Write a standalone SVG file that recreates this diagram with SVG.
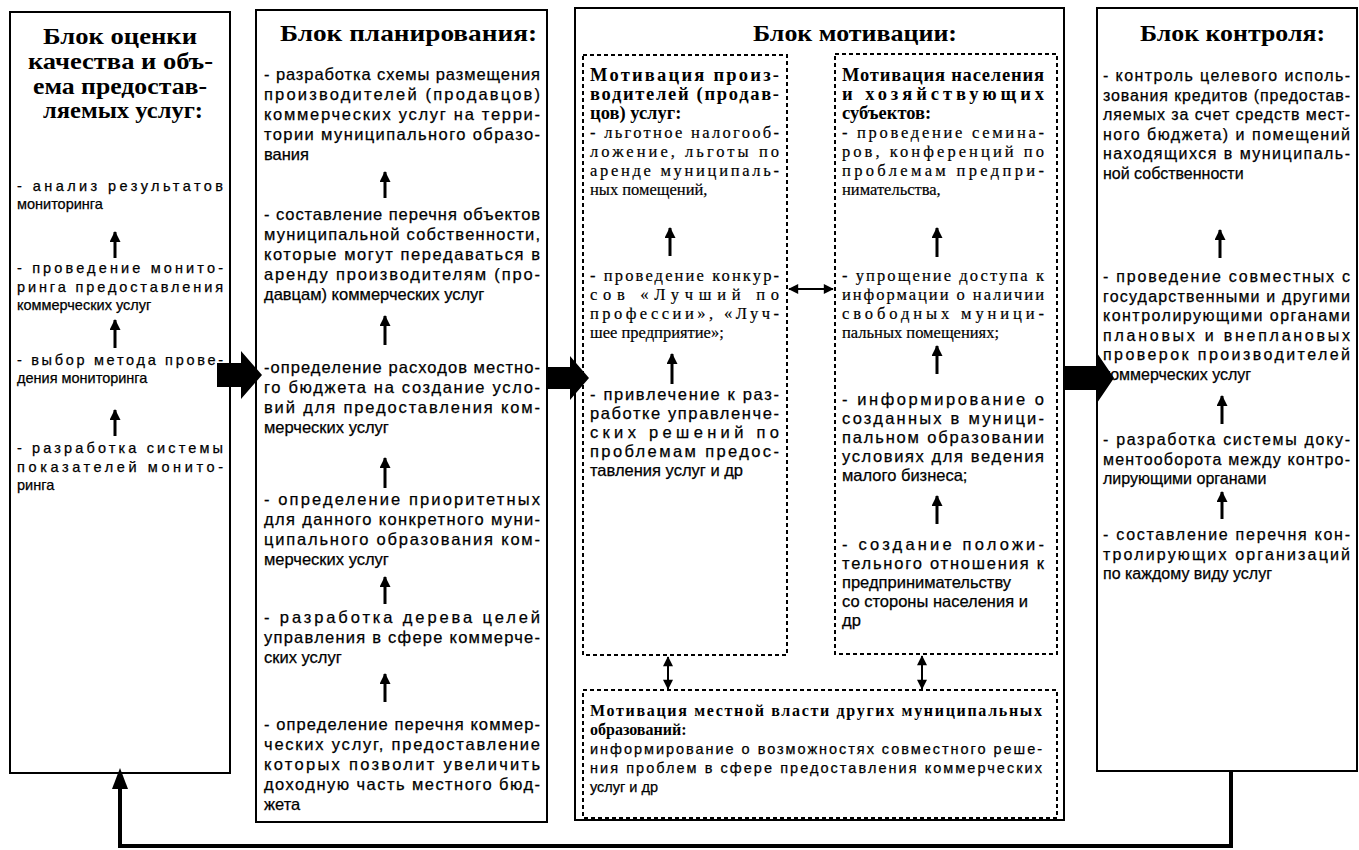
<svg xmlns="http://www.w3.org/2000/svg" width="1359" height="850" viewBox="0 0 1359 850">
<defs>
<style>
.box{fill:#fff;stroke:#000;stroke-width:2}
.dbox{fill:none;stroke:#000;stroke-width:2;stroke-dasharray:4 3}
.t{font-family:"Liberation Serif",serif;font-weight:bold;font-size:24px;fill:#000}
.b{font-family:"Liberation Sans",Arial,sans-serif;font-size:14.5px;fill:#000;stroke:#000;stroke-width:0.25}
.b2{font-family:"Liberation Sans",Arial,sans-serif;font-size:16.5px;fill:#000;stroke:#000;stroke-width:0.25}
.b4{font-family:"Liberation Sans",Arial,sans-serif;font-size:16px;fill:#000;stroke:#000;stroke-width:0.25}
.s{font-family:"Liberation Serif",serif;font-size:16.5px;fill:#000;stroke:#000;stroke-width:0.2}
.h{font-family:"Liberation Serif",serif;font-weight:bold;font-size:18.5px;fill:#000}
.h2{font-family:"Liberation Serif",serif;font-weight:bold;font-size:16px;fill:#000}
.ua{stroke:#000;stroke-width:3;fill:none;marker-end:url(#up)}
.da{stroke:#000;stroke-width:2;fill:none;marker-start:url(#sm);marker-end:url(#sm)}
.big{fill:#000}
</style>
<marker id="up" viewBox="0 0 12 12" refX="11" refY="6" markerWidth="13" markerHeight="11" markerUnits="userSpaceOnUse" orient="auto"><path d="M0,0 L12,6 L0,12 z" fill="#000"/></marker>
<marker id="sm" viewBox="0 0 12 12" refX="11" refY="6" markerWidth="11" markerHeight="10" markerUnits="userSpaceOnUse" orient="auto-start-reverse"><path d="M0,0 L12,6 L0,12 z" fill="#000"/></marker>
</defs>
<rect width="1359" height="850" fill="#fff"/>

<g id="block-quality">
<rect class="box" x="10" y="12" width="220" height="761"/>
<text class="t" x="43" y="44" textLength="154" lengthAdjust="spacingAndGlyphs">Блок оценки</text>
<text class="t" x="28" y="69" textLength="185" lengthAdjust="spacingAndGlyphs">качества и объ-</text>
<text class="t" x="33" y="94" textLength="174" lengthAdjust="spacingAndGlyphs">ема предостав-</text>
<text class="t" x="43" y="118" textLength="160" lengthAdjust="spacingAndGlyphs">ляемых услуг:</text>
<text class="b" x="17" y="191" textLength="206" lengthAdjust="spacing">- анализ результатов</text>
<text class="b" x="17" y="209">мониторинга</text>
<text class="b" x="17" y="273" textLength="206" lengthAdjust="spacing">- проведение монито-</text>
<text class="b" x="17" y="292" textLength="206" lengthAdjust="spacing">ринга предоставления</text>
<text class="b" x="17" y="310">коммерческих услуг</text>
<text class="b" x="17" y="365" textLength="206" lengthAdjust="spacing">- выбор метода прове-</text>
<text class="b" x="17" y="383">дения мониторинга</text>
<text class="b" x="17" y="453" textLength="206" lengthAdjust="spacing">- разработка системы</text>
<text class="b" x="17" y="472" textLength="206" lengthAdjust="spacing">показателей монито-</text>
<text class="b" x="17" y="490">ринга</text>
</g>

<g id="block-planning">
<rect class="box" x="256" y="10" width="291" height="812"/>
<text class="t" x="280" y="41" textLength="257" lengthAdjust="spacingAndGlyphs">Блок планирования:</text>
<text class="b2" x="264" y="80" textLength="276" lengthAdjust="spacing">- разработка схемы размещения</text>
<text class="b2" x="264" y="100" textLength="276" lengthAdjust="spacing">производителей     (продавцов)</text>
<text class="b2" x="264" y="120" textLength="276" lengthAdjust="spacing">коммерческих услуг на терри-</text>
<text class="b2" x="264" y="140" textLength="276" lengthAdjust="spacing">тории муниципального образо-</text>
<text class="b2" x="264" y="160">вания</text>
<text class="b2" x="264" y="220" textLength="276" lengthAdjust="spacing">- составление перечня объектов</text>
<text class="b2" x="264" y="240" textLength="276" lengthAdjust="spacing">муниципальной собственности,</text>
<text class="b2" x="264" y="260" textLength="276" lengthAdjust="spacing">которые могут передаваться в</text>
<text class="b2" x="264" y="280" textLength="276" lengthAdjust="spacing">аренду производителям (про-</text>
<text class="b2" x="264" y="300">давцам) коммерческих услуг</text>
<text class="b2" x="264" y="373" textLength="276" lengthAdjust="spacing">-определение расходов местно-</text>
<text class="b2" x="264" y="393" textLength="276" lengthAdjust="spacing">го бюджета на создание усло-</text>
<text class="b2" x="264" y="413" textLength="276" lengthAdjust="spacing">вий для предоставления ком-</text>
<text class="b2" x="264" y="433">мерческих услуг</text>
<text class="b2" x="264" y="505" textLength="276" lengthAdjust="spacing">-  определение   приоритетных</text>
<text class="b2" x="264" y="525" textLength="276" lengthAdjust="spacing">для данного конкретного муни-</text>
<text class="b2" x="264" y="545" textLength="276" lengthAdjust="spacing">ципального образования ком-</text>
<text class="b2" x="264" y="565">мерческих услуг</text>
<text class="b2" x="264" y="623" textLength="276" lengthAdjust="spacing">-   разработка   дерева   целей</text>
<text class="b2" x="264" y="643" textLength="276" lengthAdjust="spacing">управления в сфере коммерче-</text>
<text class="b2" x="264" y="663">ских услуг</text>
<text class="b2" x="264" y="730" textLength="276" lengthAdjust="spacing">- определение перечня коммер-</text>
<text class="b2" x="264" y="750" textLength="276" lengthAdjust="spacing">ческих услуг, предоставление</text>
<text class="b2" x="264" y="770" textLength="276" lengthAdjust="spacing">которых позволит увеличить</text>
<text class="b2" x="264" y="790" textLength="276" lengthAdjust="spacing">доходную часть местного бюд-</text>
<text class="b2" x="264" y="810">жета</text>
</g>

<g id="block-motivation">
<rect class="box" x="575" y="8" width="489" height="812"/>
<text class="t" x="753" y="41" textLength="204" lengthAdjust="spacingAndGlyphs">Блок мотивации:</text>
</g>

<g id="motivation-producers">
<rect class="dbox" x="583" y="55" width="204" height="600"/>
<text class="h" x="590" y="81" textLength="189" lengthAdjust="spacing">Мотивация   произ-</text>
<text class="h" x="590" y="100" textLength="189" lengthAdjust="spacing">водителей (продав-</text>
<text class="h" x="590" y="119">цов) услуг:</text>
<text class="s" x="590" y="138" textLength="189" lengthAdjust="spacing">- льготное налогооб-</text>
<text class="s" x="590" y="157" textLength="189" lengthAdjust="spacing">ложение, льготы по</text>
<text class="s" x="590" y="176" textLength="189" lengthAdjust="spacing">аренде  муниципаль-</text>
<text class="s" x="590" y="195">ных помещений,</text>
<text class="s" x="590" y="281" textLength="189" lengthAdjust="spacing">- проведение конкур-</text>
<text class="s" x="590" y="300" textLength="189" lengthAdjust="spacing">сов    «Лучший    по</text>
<text class="s" x="590" y="319" textLength="189" lengthAdjust="spacing">профессии»,    «Луч-</text>
<text class="s" x="590" y="338">шее предприятие»;</text>
<text class="b2" x="590" y="400" textLength="189" lengthAdjust="spacing">- привлечение к раз-</text>
<text class="b2" x="590" y="419" textLength="189" lengthAdjust="spacing">работке управленче-</text>
<text class="b2" x="590" y="438" textLength="189" lengthAdjust="spacing">ских    решений  по</text>
<text class="b2" x="590" y="457" textLength="189" lengthAdjust="spacing">проблемам    предос-</text>
<text class="b2" x="590" y="476">тавления услуг и др</text>
</g>

<g id="motivation-population">
<rect class="dbox" x="835" y="54" width="222" height="600"/>
<text class="h" x="842" y="81" textLength="202" lengthAdjust="spacing">Мотивация населения</text>
<text class="h" x="842" y="100" textLength="202" lengthAdjust="spacing">и      хозяйствующих</text>
<text class="h" x="842" y="119">субъектов:</text>
<text class="s" x="842" y="138" textLength="202" lengthAdjust="spacing"> - проведение семина-</text>
<text class="s" x="842" y="157" textLength="202" lengthAdjust="spacing">ров, конференций по</text>
<text class="s" x="842" y="176" textLength="202" lengthAdjust="spacing">проблемам     предпри-</text>
<text class="s" x="842" y="195">нимательства,</text>
<text class="s" x="842" y="281" textLength="202" lengthAdjust="spacing">- упрощение доступа к</text>
<text class="s" x="842" y="300" textLength="202" lengthAdjust="spacing">информации о наличии</text>
<text class="s" x="842" y="319" textLength="202" lengthAdjust="spacing">свободных      муници-</text>
<text class="s" x="842" y="338">пальных помещениях;</text>
<text class="b2" x="842" y="405" textLength="202" lengthAdjust="spacing">-   информирование   о</text>
<text class="b2" x="842" y="424" textLength="202" lengthAdjust="spacing">созданных  в  муници-</text>
<text class="b2" x="842" y="443" textLength="202" lengthAdjust="spacing">пальном   образовании</text>
<text class="b2" x="842" y="462" textLength="202" lengthAdjust="spacing">условиях  для  ведения</text>
<text class="b2" x="842" y="481">малого бизнеса;</text>
<text class="b2" x="842" y="550" textLength="202" lengthAdjust="spacing">-    создание    положи-</text>
<text class="b2" x="842" y="569" textLength="202" lengthAdjust="spacing">тельного отношения к</text>
<text class="b2" x="842" y="588">предпринимательству</text>
<text class="b2" x="842" y="607">со стороны населения и</text>
<text class="b2" x="842" y="626">др</text>
</g>

<g id="motivation-authorities">
<rect class="dbox" x="583" y="690" width="474" height="128"/>
<text class="h2" x="590" y="716" textLength="452" lengthAdjust="spacing">Мотивация местной власти других муниципальных</text>
<text class="h2" x="590" y="735">образований:</text>
<text class="b" x="590" y="754" textLength="452" lengthAdjust="spacing">информирование о возможностях совместного реше-</text>
<text class="b" x="590" y="773" textLength="452" lengthAdjust="spacing">ния проблем в сфере предоставления  коммерческих</text>
<text class="b" x="590" y="792">услуг и др</text>
</g>

<g id="block-control">
<rect class="box" x="1097" y="8" width="260" height="763"/>
<text class="t" x="1140" y="41" textLength="185" lengthAdjust="spacingAndGlyphs">Блок контроля:</text>
<text class="b4" x="1103" y="81" textLength="247" lengthAdjust="spacing">- контроль целевого исполь-</text>
<text class="b4" x="1103" y="100.5" textLength="247" lengthAdjust="spacing">зования кредитов (предостав-</text>
<text class="b4" x="1103" y="120" textLength="247" lengthAdjust="spacing">ляемых за счет средств мест-</text>
<text class="b4" x="1103" y="139.5" textLength="247" lengthAdjust="spacing">ного бюджета) и помещений</text>
<text class="b4" x="1103" y="159" textLength="247" lengthAdjust="spacing">находящихся в муниципаль-</text>
<text class="b4" x="1103" y="178.5">ной собственности</text>
<text class="b4" x="1103" y="282" textLength="247" lengthAdjust="spacing">- проведение совместных  с</text>
<text class="b4" x="1103" y="301.5" textLength="247" lengthAdjust="spacing">государственными и другими</text>
<text class="b4" x="1103" y="321" textLength="247" lengthAdjust="spacing">контролирующими органами</text>
<text class="b4" x="1103" y="340.5" textLength="247" lengthAdjust="spacing">плановых     и     внеплановых</text>
<text class="b4" x="1103" y="360" textLength="247" lengthAdjust="spacing">проверок      производителей</text>
<text class="b4" x="1103" y="379.5">коммерческих услуг</text>
<text class="b4" x="1103" y="445" textLength="247" lengthAdjust="spacing">- разработка системы доку-</text>
<text class="b4" x="1103" y="464.5" textLength="247" lengthAdjust="spacing">ментооборота между контро-</text>
<text class="b4" x="1103" y="484">лирующими органами</text>
<text class="b4" x="1103" y="540" textLength="247" lengthAdjust="spacing">- составление перечня кон-</text>
<text class="b4" x="1103" y="559.5" textLength="247" lengthAdjust="spacing">тролирующих    организаций</text>
<text class="b4" x="1103" y="579">по каждому виду услуг</text>
</g>

<g id="connectors">
<line class="ua" x1="115" y1="258" x2="115" y2="232"/>
<line class="ua" x1="115" y1="348" x2="115" y2="320"/>
<line class="ua" x1="115" y1="436" x2="115" y2="410"/>
<line class="ua" x1="385" y1="198" x2="385" y2="172"/>
<line class="ua" x1="385" y1="345" x2="385" y2="316"/>
<line class="ua" x1="385" y1="488" x2="385" y2="458"/>
<line class="ua" x1="385" y1="604" x2="385" y2="577"/>
<line class="ua" x1="385" y1="702" x2="385" y2="674"/>
<line class="ua" x1="670" y1="256" x2="670" y2="228"/>
<line class="ua" x1="672" y1="384" x2="672" y2="354"/>
<line class="ua" x1="937" y1="257" x2="937" y2="228"/>
<line class="ua" x1="937" y1="374" x2="937" y2="346"/>
<line class="ua" x1="937" y1="524" x2="937" y2="496"/>
<line class="ua" x1="1220" y1="258" x2="1220" y2="230"/>
<line class="ua" x1="1222" y1="424" x2="1222" y2="396"/>
<line class="ua" x1="1222" y1="519" x2="1222" y2="492"/>
<line class="da" x1="789" y1="289" x2="833" y2="289"/>
<line class="da" x1="668" y1="657" x2="668" y2="689"/>
<line class="da" x1="922" y1="656" x2="922" y2="689"/>
<polygon class="big" points="217,363 241,363 241,351 262,375 241,399 241,387 217,387"/>
<polygon class="big" points="547,367 570,367 570,356 589,378 570,400 570,389 547,389"/>
<polygon class="big" points="1065,366 1097,366 1097,353 1114,378 1097,403 1097,390 1065,390"/>
<polyline points="1231,771 1231,846 120,846 120,786" fill="none" stroke="#000" stroke-width="4"/>
<polygon class="big" points="120,768 112,789 128,789"/>
</g>
</svg>
